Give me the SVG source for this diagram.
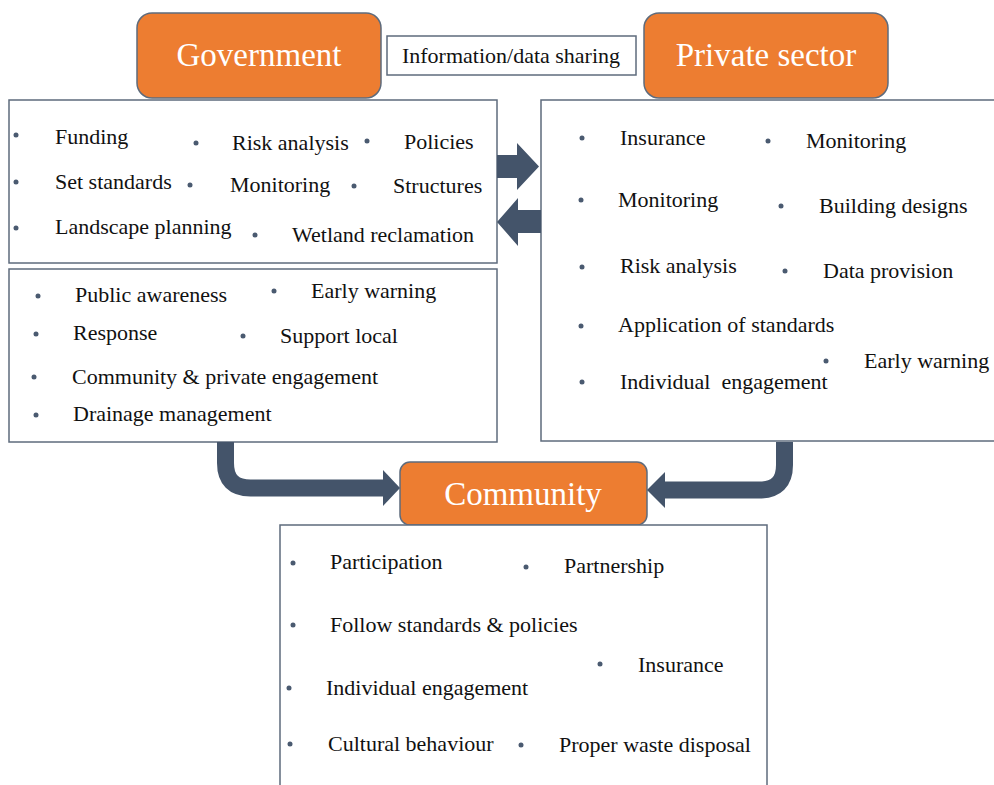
<svg xmlns="http://www.w3.org/2000/svg" width="994" height="785" viewBox="0 0 994 785">
<style>
.hd{fill:#ED7D31;stroke:#5E6B7C;stroke-width:1.5}
.ht{font-family:"Liberation Serif",serif;font-size:33px;fill:#fff;text-anchor:middle}
.bx{fill:#fff;stroke:#5E6B7C;stroke-width:1.5}
.t{font-family:"Liberation Serif",serif;font-size:22px;fill:#111}
.b{fill:#4A5A70}
.ar{fill:#44546A}
.ln{fill:none;stroke:#44546A;stroke-width:17}
</style>
<rect width="994" height="785" fill="#fff"/>
<g id="government">
<rect class="hd" x="137" y="13" width="244" height="85" rx="15"/>
<text class="ht" x="259" y="66">Government</text>
</g>
<g id="info-sharing">
<rect class="bx" x="387" y="36" width="249" height="39"/>
<text class="t" x="511" y="63" text-anchor="middle">Information/data sharing</text>
</g>
<g id="private-sector">
<rect class="hd" x="644" y="13" width="244" height="85" rx="15"/>
<text class="ht" x="766" y="66">Private sector</text>
</g>
<g id="gov-roles-1">
<rect class="bx" x="9" y="100" width="488" height="163"/>
<circle class="b" cx="16" cy="135" r="2.5"/><text class="t" x="55" y="144">Funding</text>
<circle class="b" cx="196" cy="143" r="2.5"/><text class="t" x="232" y="150">Risk analysis</text>
<circle class="b" cx="367" cy="141" r="2.5"/><text class="t" x="404" y="149">Policies</text>
<circle class="b" cx="16" cy="182" r="2.5"/><text class="t" x="55" y="189">Set standards</text>
<circle class="b" cx="190" cy="185" r="2.5"/><text class="t" x="230" y="192">Monitoring</text>
<circle class="b" cx="354" cy="186" r="2.5"/><text class="t" x="393" y="193">Structures</text>
<circle class="b" cx="16" cy="228" r="2.5"/><text class="t" x="55" y="234">Landscape planning</text>
<circle class="b" cx="255" cy="235" r="2.5"/><text class="t" x="292" y="242">Wetland reclamation</text>
</g>
<g id="gov-roles-2">
<rect class="bx" x="9" y="269" width="488" height="173"/>
<circle class="b" cx="38" cy="296" r="2.5"/><text class="t" x="75" y="302">Public awareness</text>
<circle class="b" cx="274" cy="291" r="2.5"/><text class="t" x="311" y="298">Early warning</text>
<circle class="b" cx="36" cy="334" r="2.5"/><text class="t" x="73" y="340">Response</text>
<circle class="b" cx="243" cy="336" r="2.5"/><text class="t" x="280" y="343">Support local</text>
<circle class="b" cx="34" cy="377" r="2.5"/><text class="t" x="72" y="384">Community &amp; private engagement</text>
<circle class="b" cx="36" cy="415" r="2.5"/><text class="t" x="73" y="421">Drainage management</text>
</g>
<g id="private-roles">
<rect class="bx" x="541" y="100" width="470" height="341"/>
<circle class="b" cx="582" cy="138" r="2.5"/><text class="t" x="620" y="145">Insurance</text>
<circle class="b" cx="768" cy="141" r="2.5"/><text class="t" x="806" y="148">Monitoring</text>
<circle class="b" cx="581" cy="200" r="2.5"/><text class="t" x="618" y="207">Monitoring</text>
<circle class="b" cx="781" cy="206" r="2.5"/><text class="t" x="819" y="213">Building designs</text>
<circle class="b" cx="582" cy="267" r="2.5"/><text class="t" x="620" y="273">Risk analysis</text>
<circle class="b" cx="785" cy="271" r="2.5"/><text class="t" x="823" y="278">Data provision</text>
<circle class="b" cx="581" cy="326" r="2.5"/><text class="t" x="618" y="332">Application of standards</text>
<circle class="b" cx="826" cy="361" r="2.5"/><text class="t" x="864" y="368">Early warning</text>
<circle class="b" cx="582" cy="382" r="2.5"/><text class="t" x="620" y="389" xml:space="preserve">Individual  engagement</text>
</g>
<g id="community">
<rect class="hd" x="400" y="462" width="247" height="63" rx="10"/>
<text class="ht" x="523" y="505">Community</text>
</g>
<g id="community-roles">
<rect class="bx" x="280" y="525" width="487" height="280"/>
<circle class="b" cx="293" cy="563" r="2.5"/><text class="t" x="330" y="569">Participation</text>
<circle class="b" cx="526" cy="567" r="2.5"/><text class="t" x="564" y="573">Partnership</text>
<circle class="b" cx="293" cy="625" r="2.5"/><text class="t" x="330" y="632">Follow standards &amp; policies</text>
<circle class="b" cx="600" cy="664" r="2.5"/><text class="t" x="638" y="672">Insurance</text>
<circle class="b" cx="289" cy="688" r="2.5"/><text class="t" x="326" y="695">Individual engagement</text>
<circle class="b" cx="290" cy="744" r="2.5"/><text class="t" x="328" y="751">Cultural behaviour</text>
<circle class="b" cx="521" cy="745" r="2.5"/><text class="t" x="559" y="752">Proper waste disposal</text>
</g>
<g id="connectors">
<polygon class="ar" points="497,155 517,155 517,143 539,166.5 517,190 517,178 497,178"/>
<polygon class="ar" points="541,210 518,210 518,198 497,222 518,246 518,233 541,233"/>
<path class="ln" d="M225.5,442 V463 Q225.5,488 250.5,488 H384"/>
<polygon class="ar" points="383,470 400,488 383,506"/>
<path class="ln" d="M784.5,442 V465 Q784.5,490 759.5,490 H664"/>
<polygon class="ar" points="665,472 647,490 665,508"/>
</g>
</svg>
